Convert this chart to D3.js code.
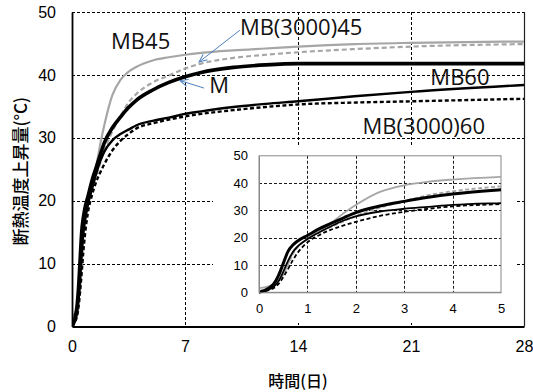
<!DOCTYPE html>
<html><head><meta charset="utf-8">
<script src="https://cdn.jsdelivr.net/npm/d3@7"></script>
<style>
html,body{margin:0;padding:0;background:#fff;}
svg{display:block;}
</style>
</head><body>
<svg id="chart" width="533" height="392"></svg>
<script>
// ---------- data ----------
const days = [0,0.2,0.3,0.4,0.5,0.6,0.7,0.8,1,1.25,1.5,1.75,2,2.5,3,3.5,4,5,6,7,8,10,12,14,17.5,21,28];
const mb45      = [1.5,2.2,3,4.3,6.5,10.5,14.5,16.8,19.5,22.5,25.5,29,32,36.8,39.2,40.5,41.3,42.3,42.8,43.2,43.5,43.9,44.2,44.5,44.9,45.1,45.3];
const mb3000_45 = [0.5,1.5,2.5,4,6.5,10,14,16.5,19.5,22,24,26,28,31,33.4,35.6,37,38.8,39.9,41,41.8,42.7,43.2,43.6,44.1,44.5,44.9];
const mSeries   = [0,1.5,3,6,10.5,15,17.3,18.8,20.8,23.3,25.3,27.3,29.2,31.6,33.3,34.8,36,37.6,38.8,39.7,40.4,41.2,41.6,41.8,41.8,41.8,41.8];
const mb60      = [0,1,2,4,7.5,11.5,14.8,16.8,19.5,22,24.3,26.3,27.8,29.6,30.6,31.3,32,32.7,33.2,33.8,34.2,34.9,35.4,35.8,36.6,37.3,38.4];
const mb3000_60 = [0,0.8,1.5,3,5.5,8.5,11.8,14.5,18.3,21,23,24.5,25.8,28,29.5,30.6,31.5,32.3,32.9,33.4,33.8,34.4,34.9,35.3,35.6,35.8,36.2];

const mainXTicks = [0,7,14,21,28];
const mainYTicks = [0,10,20,30,40,50];
const insetXTicks = [0,1,2,3,4,5];
const insetYTicks = [0,10,20,30,40,50];

const xTitle = "時間(日)";
const yTitle = "断熱温度上昇量(°C)";

// annotations (data coordinates of the main chart)
const labels = [
  {text:"MB45", d:2.42, v:44.1},
  {text:"MB(3000)45", d:10.4, v:46.3},
  {text:"M", d:8.5, v:37.1},
  {text:"MB60", d:22.2, v:38.4},
  {text:"MB(3000)60", d:18.0, v:30.6}
];
const arrows = [
  {d0:10.4, v0:47.1, d1:7.87, v1:42.05},
  {d0:8.18, v0:37.9, d1:6.69, v1:39.1}
];

// ---------- style / layout ----------
const series = [
  {vals:mb45,      color:"#a6a6a6", w:2.2, wi:1.8, dash:null},
  {vals:mb3000_45, color:"#a6a6a6", w:2.2, wi:1.8, dash:"5,3"},
  {vals:mb3000_60, color:"#000",    w:2.4, wi:1.8, dash:"4,2.5"},
  {vals:mb60,      color:"#000",    w:2.4, wi:1.8, dash:null},
  {vals:mSeries,   color:"#000",    w:3.6, wi:3.0, dash:null}
];

const svg = d3.select("#chart");
const M = {l:72, r:524, t:12, b:326.5};
const x = d3.scaleLinear().domain([0,28]).range([M.l, M.r]);
const y = d3.scaleLinear().domain([0,50]).range([M.b, M.t]);

const defs = svg.append("defs");
defs.append("clipPath").attr("id","clipMain").append("rect")
  .attr("x",M.l).attr("y",M.t).attr("width",M.r-M.l).attr("height",M.b-M.t);

// main gridlines
const grid = svg.append("g").attr("stroke","#000").attr("stroke-width",1).attr("stroke-dasharray","3,2");
mainYTicks.filter(t=>t>0).forEach(t=>{
  grid.append("line").attr("x1",M.l).attr("x2",M.r).attr("y1",Math.round(y(t))+0.5).attr("y2",Math.round(y(t))+0.5);
});
mainXTicks.filter(t=>t>0 && t<28).forEach(t=>{
  grid.append("line").attr("y1",M.t).attr("y2",M.b).attr("x1",Math.round(x(t))+0.5).attr("x2",Math.round(x(t))+0.5);
});
// right border
svg.append("line").attr("x1",M.r+0.5).attr("x2",M.r+0.5).attr("y1",M.t).attr("y2",M.b).attr("stroke","#222").attr("stroke-width",1.2);

// main curves
const lineMain = d3.line().x((d,i)=>x(days[i])).y(d=>y(d)).curve(d3.curveMonotoneX);
const gMain = svg.append("g").attr("clip-path","url(#clipMain)");
series.forEach(s=>{
  gMain.append("path").attr("d",lineMain(s.vals)).attr("fill","none")
    .attr("stroke",s.color).attr("stroke-width",s.w)
    .attr("stroke-dasharray",s.dash).attr("stroke-linejoin","round");
});

// main axes
const axY = svg.append("g").attr("transform",`translate(${M.l},0)`)
  .call(d3.axisLeft(y).tickValues(mainYTicks).tickSize(0).tickPadding(16).tickFormat(d3.format("d")));
const axX = svg.append("g").attr("transform",`translate(0,${M.b})`)
  .call(d3.axisBottom(x).tickValues(mainXTicks).tickSize(0).tickPadding(14).tickFormat(d3.format("d")));
[axY,axX].forEach(a=>{
  a.select(".domain").attr("stroke","#000").attr("stroke-width",1.8);
  a.selectAll("text").attr("font-family","Liberation Sans, Arial, sans-serif").attr("font-size",16).attr("fill","#000");
});

// inset
const I = {l:259, r:501, t:155.8, b:292.3};
const xi = d3.scaleLinear().domain([0,5]).range([I.l, I.r]);
const yi = d3.scaleLinear().domain([0,50]).range([I.b, I.t]);
svg.append("rect").attr("x",213).attr("y",145).attr("width",304).attr("height",178).attr("fill","#fff");
defs.append("clipPath").attr("id","clipInset").append("rect")
  .attr("x",I.l).attr("y",I.t-2).attr("width",I.r-I.l).attr("height",I.b-I.t+4);

const gridI = svg.append("g").attr("stroke","#000").attr("stroke-width",0.9).attr("stroke-dasharray","3,2");
insetYTicks.filter(t=>t>0 && t<50).forEach(t=>{
  gridI.append("line").attr("x1",I.l).attr("x2",I.r).attr("y1",Math.round(yi(t))+0.5).attr("y2",Math.round(yi(t))+0.5);
});
insetXTicks.filter(t=>t>0 && t<5).forEach(t=>{
  gridI.append("line").attr("y1",I.t).attr("y2",I.b).attr("x1",Math.round(xi(t))+0.5).attr("x2",Math.round(xi(t))+0.5);
});
svg.append("rect").attr("x",I.l).attr("y",I.t).attr("width",I.r-I.l).attr("height",I.b-I.t)
  .attr("fill","none").attr("stroke","#888").attr("stroke-width",1);

const lineInset = d3.line().x((d,i)=>xi(days[i])).y(d=>yi(d)).curve(d3.curveMonotoneX);
const gIn = svg.append("g").attr("clip-path","url(#clipInset)");
series.forEach(s=>{
  gIn.append("path").attr("d",lineInset(s.vals)).attr("fill","none")
    .attr("stroke",s.color).attr("stroke-width",s.wi)
    .attr("stroke-dasharray",s.dash ? "4,2.5" : null).attr("stroke-linejoin","round");
});

const axYi = svg.append("g").attr("transform",`translate(${I.l},0)`)
  .call(d3.axisLeft(yi).tickValues(insetYTicks).tickSize(0).tickPadding(11).tickFormat(d3.format("d")));
const axXi = svg.append("g").attr("transform",`translate(0,${I.b})`)
  .call(d3.axisBottom(xi).tickValues(insetXTicks).tickSize(0).tickPadding(11).tickFormat(d3.format("d")));
[axYi,axXi].forEach(a=>{
  a.select(".domain").attr("stroke","#888").attr("stroke-width",1);
  a.selectAll("text").attr("font-family","Liberation Sans, Arial, sans-serif").attr("font-size",13).attr("fill","#000");
});

// annotations
labels.forEach(l=>{
  svg.append("text").attr("x",x(l.d)).attr("y",y(l.v)).text(l.text)
    .attr("font-family","Open Sans, sans-serif").attr("font-size",22).attr("fill","#111");
});
const mk = defs.append("marker").attr("id","arr").attr("viewBox","-9 -5 10 10")
  .attr("refX",0).attr("refY",0).attr("markerWidth",10).attr("markerHeight",10)
  .attr("markerUnits","userSpaceOnUse").attr("orient","auto");
mk.append("path").attr("d","M-8,-3.5 L0,0 L-8,3.5").attr("fill","none").attr("stroke","#4f81bd").attr("stroke-width",1);
arrows.forEach(a=>{
  svg.append("line").attr("x1",x(a.d0)).attr("y1",y(a.v0)).attr("x2",x(a.d1)).attr("y2",y(a.v1))
    .attr("stroke","#4f81bd").attr("stroke-width",1).attr("marker-end","url(#arr)");
});

// titles
svg.append("text").attr("x",(M.l+M.r)/2).attr("y",387).attr("text-anchor","middle")
  .attr("font-family","Noto Sans CJK JP, sans-serif").attr("font-size",16).attr("font-weight",500).text(xTitle);
svg.append("text").attr("transform",`translate(27,${(M.t+M.b)/2+2}) rotate(-90)`).attr("text-anchor","middle")
  .attr("font-family","Noto Sans CJK JP, sans-serif").attr("font-size",17).attr("font-weight",500).text(yTitle);
</script>
</body></html>
